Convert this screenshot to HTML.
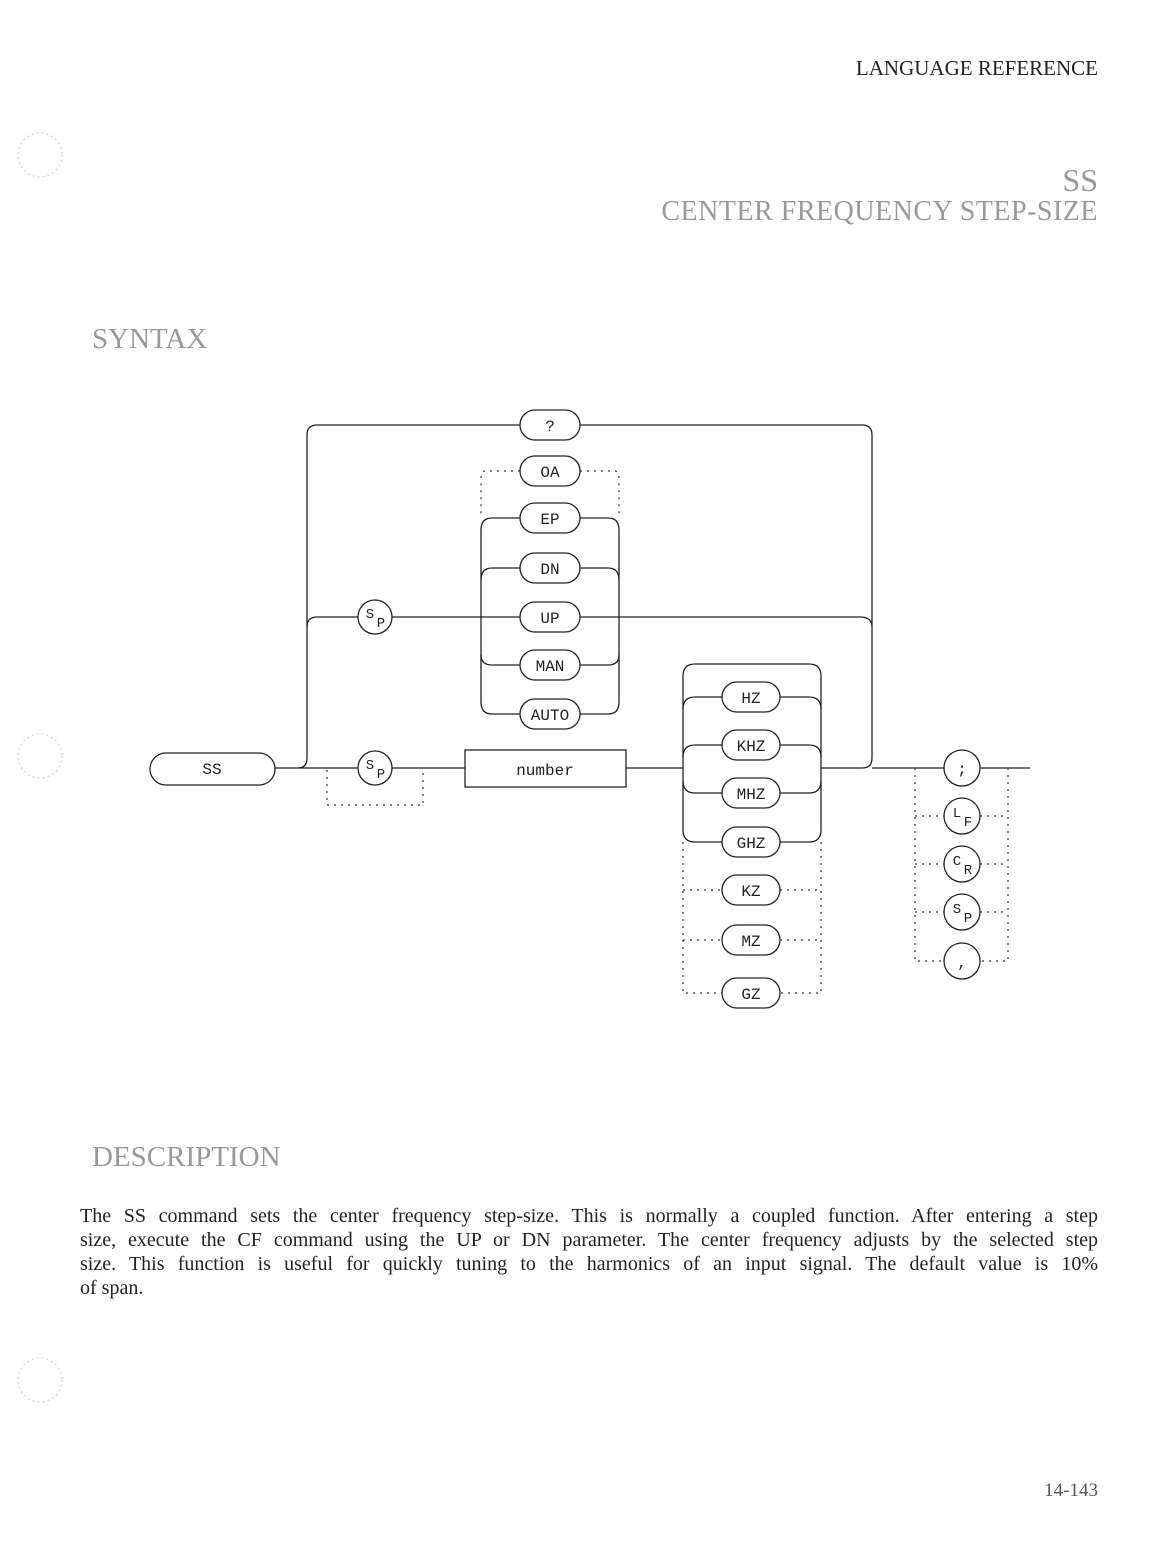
<!DOCTYPE html>
<html><head><meta charset="utf-8"><style>
body{margin:0;background:#fff;}
.p{position:relative;width:1176px;height:1544px;overflow:hidden;font-family:"Liberation Serif",serif;color:#222;}
.t{position:absolute;white-space:nowrap;}
.l{position:absolute;left:80px;width:1018px;font-size:20px;text-align:justify;text-align-last:justify;white-space:normal;}
</style></head><body><div class="p">
<div class="t" style="right:78px;top:56px;font-size:21px;">LANGUAGE REFERENCE</div>
<div class="t" style="right:78px;top:162px;font-size:32px;color:#999;">SS</div>
<div class="t" style="right:78px;top:196px;font-size:28px;color:#999;letter-spacing:0.5px;">CENTER FREQUENCY STEP-SIZE</div>
<div class="t" style="left:92px;top:323px;font-size:29px;color:#999;">SYNTAX</div>
<div class="t" style="left:92px;top:1141px;font-size:29px;color:#999;">DESCRIPTION</div>
<div class="l" style="top:1205px;">The SS command sets the center frequency step-size. This is normally a coupled function. After entering a step</div>
<div class="l" style="top:1229px;">size, execute the CF command using the UP or DN parameter. The center frequency adjusts by the selected step</div>
<div class="l" style="top:1253px;">size. This function is useful for quickly tuning to the harmonics of an input signal. The default value is 10%</div>
<div class="l" style="top:1277px;text-align-last:left;">of span.</div>
<div class="t" style="right:78px;top:1480px;font-size:19px;color:#555;">14-143</div>
<svg width="1176" height="1544" style="position:absolute;left:0;top:0" font-family="Liberation Mono, monospace" font-size="16" text-anchor="middle">
<g fill="none" stroke="#ccc" stroke-dasharray="2 3"><circle cx="40" cy="155" r="22"/><circle cx="40" cy="756" r="22"/><circle cx="40" cy="1380" r="22"/></g>
<g fill="none" stroke="#222" stroke-width="1.3">
<path d="M275 768 H298 Q307 768 307 758 V435 Q307 425 317 425 H520"/>
<path d="M307 627 Q307 617 317 617 H358"/>
<path d="M298 768 H358 M392 768 H465 M626 768 H683 M821 768 H862 Q872 768 872 758 V435 Q872 425 862 425 H580"/>
<path d="M872 768 H944 M980 768 H1030"/>
<path d="M392 617 H520 M580 617 H860 Q872 617 872 627"/>
<path d="M520 518 H492 Q481 518 481 530 V702 Q481 714 492 714 H520"/>
<path d="M580 518 H608 Q619 518 619 530 V702 Q619 714 608 714 H580"/>
<path d="M520 568 H492 Q481 568 481 580 M520 665 H492 Q481 665 481 655 M580 568 H608 Q619 568 619 580 M580 665 H608 Q619 665 619 655"/>
<path d="M695 664 H809 Q821 664 821 676 V830 Q821 842 809 842 H780"/>
<path d="M695 664 Q683 664 683 676 V830 Q683 842 695 842 H722"/>
<path d="M722 697 H695 Q683 697 683 709 M722 745 H695 Q683 745 683 757 M722 793 H695 Q683 793 683 781 M780 697 H809 Q821 697 821 709 M780 745 H809 Q821 745 821 757 M780 793 H809 Q821 793 821 781"/>
<rect x="150" y="753" width="125" height="32" rx="16"/>
<rect x="465" y="750" width="161" height="37"/>
<rect x="520" y="410" width="60" height="30" rx="15"/>
<rect x="520" y="456" width="60" height="30" rx="15"/>
<rect x="520" y="503" width="60" height="30" rx="15"/>
<rect x="520" y="553" width="60" height="30" rx="15"/>
<rect x="520" y="602" width="60" height="30" rx="15"/>
<rect x="520" y="650" width="60" height="30" rx="15"/>
<rect x="520" y="699" width="60" height="30" rx="15"/>
<rect x="722" y="682" width="58" height="30" rx="15"/>
<rect x="722" y="730" width="58" height="30" rx="15"/>
<rect x="722" y="778" width="58" height="30" rx="15"/>
<rect x="722" y="827" width="58" height="30" rx="15"/>
<rect x="722" y="875" width="58" height="30" rx="15"/>
<rect x="722" y="925" width="58" height="30" rx="15"/>
<rect x="722" y="978" width="58" height="30" rx="15"/>
<circle cx="375" cy="617" r="17"/><circle cx="375" cy="768" r="17"/>
<circle cx="962" cy="768" r="18"/><circle cx="962" cy="816" r="18"/><circle cx="962" cy="864" r="18"/><circle cx="962" cy="912" r="18"/><circle cx="962" cy="961" r="18"/>
</g>
<g fill="none" stroke="#333" stroke-width="1.2" stroke-dasharray="2 5">
<path d="M520 471 H485 Q481 471 481 480 V518 M580 471 H615 Q619 471 619 480 V518"/>
<path d="M327 770 V805 H423 V770"/>
<path d="M683 842 V993 H722 M821 842 V993 H780 M683 890 H722 M780 890 H821 M683 940 H722 M780 940 H821"/>
<path d="M915 768 V961 H944 M1008 768 V961 H980 M915 816 H944 M915 864 H944 M915 912 H944 M980 816 H1008 M980 864 H1008 M980 912 H1008"/>
</g>
<g fill="#222" stroke="none">
<text x="212" y="774">SS</text><text x="545" y="775">number</text>
<text x="550" y="431">?</text><text x="550" y="477">OA</text><text x="550" y="524">EP</text><text x="550" y="574">DN</text><text x="550" y="623">UP</text><text x="550" y="671">MAN</text><text x="550" y="720">AUTO</text>
<text x="751" y="703">HZ</text><text x="751" y="751">KHZ</text><text x="751" y="799">MHZ</text><text x="751" y="848">GHZ</text><text x="751" y="896">KZ</text><text x="751" y="946">MZ</text><text x="751" y="999">GZ</text>
<text x="370" y="618" font-size="14">S</text><text x="381" y="627" font-size="14">P</text>
<text x="370" y="769" font-size="14">S</text><text x="381" y="778" font-size="14">P</text>
<text x="962" y="774">;</text><text x="962" y="967">,</text>
<text x="957" y="817" font-size="14">L</text><text x="968" y="826" font-size="14">F</text>
<text x="957" y="865" font-size="14">C</text><text x="968" y="874" font-size="14">R</text>
<text x="957" y="913" font-size="14">S</text><text x="968" y="922" font-size="14">P</text>
</g>
</svg>
</div></body></html>
